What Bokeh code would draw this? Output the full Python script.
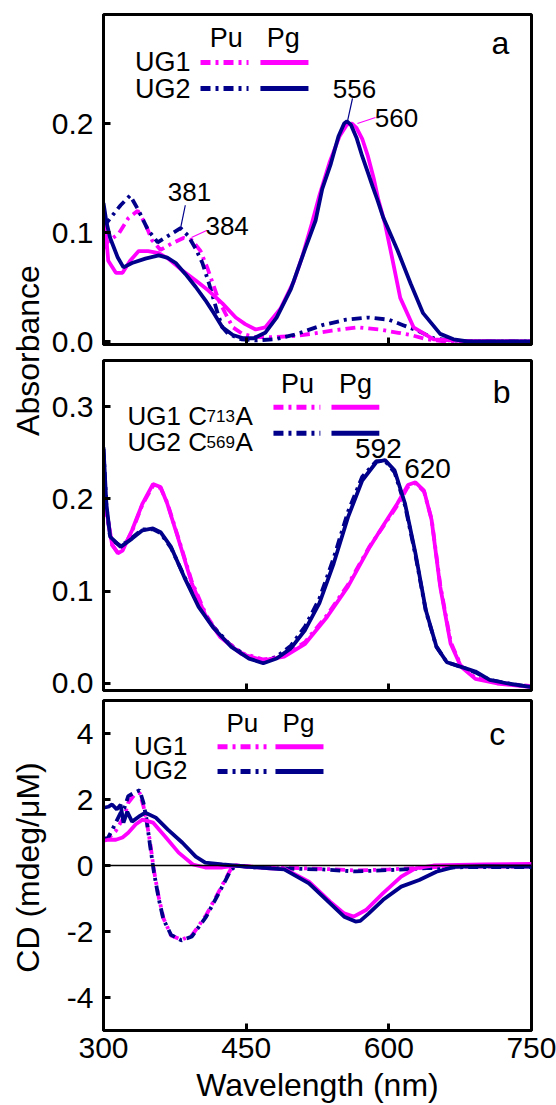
from math import pi
from bokeh.plotting import figure
from bokeh.layouts import row, column
from bokeh.models import Range1d, FixedTicker, Span, PrintfTickFormatter
from bokeh.embed import file_html
from bokeh.resources import INLINE
from bokeh.core.properties import value

FONT = "Liberation Sans"
MAG = "#ff00ff"
BLU = "#00008b"
DASHDOT = "10 5 3 5"

# ---------------- Panel a: absorbance, wild type ----------------
a_ug1_pg_wl = [300, 302, 305, 313, 320, 328, 337, 347, 358, 368, 383, 397, 410, 425, 439, 449, 460, 470, 486, 500,
               509, 519, 527, 538, 548, 556, 561, 566, 572, 578, 584, 589, 596, 602, 612, 626, 647, 676, 750]
a_ug1_pg = [0.108, 0.105, 0.074, 0.063, 0.063, 0.074, 0.083, 0.083, 0.081, 0.076, 0.065, 0.056, 0.047, 0.035, 0.022,
            0.016, 0.011, 0.013, 0.030, 0.055, 0.078, 0.108, 0.134, 0.165, 0.188, 0.199, 0.200, 0.196, 0.186, 0.170,
            0.150, 0.130, 0.108, 0.083, 0.040, 0.013, 0.002, 0.0005, 0.0]
a_ug2_pg_wl = [300, 303, 307, 315, 321, 330, 344, 358, 367, 376, 386, 397, 407, 416, 425, 436, 447, 458, 470, 482,
               497, 512, 523, 530, 539, 547, 553, 556, 560, 566, 572, 578, 583, 588, 594, 600, 609, 623, 636, 654,
               668, 683, 750]
a_ug2_pg = [0.127, 0.110, 0.095, 0.077, 0.068, 0.072, 0.076, 0.079, 0.077, 0.072, 0.062, 0.050, 0.038, 0.026, 0.013,
            0.006, 0.003, 0.003, 0.008, 0.022, 0.048, 0.085, 0.111, 0.140, 0.163, 0.188, 0.200, 0.202, 0.199, 0.187,
            0.170, 0.155, 0.142, 0.130, 0.114, 0.102, 0.084, 0.053, 0.026, 0.007, 0.002, 0.0, 0.0]
a_ug1_pu_wl = [300, 304, 316, 326, 336, 344, 351, 360, 372, 384, 393, 402, 409, 415, 421, 428, 436, 446, 460, 480,
               500, 518, 540, 567, 590, 610, 623, 640, 660, 750]
a_ug1_pu = [0.085, 0.091, 0.099, 0.113, 0.120, 0.108, 0.093, 0.084, 0.090, 0.095, 0.093, 0.083, 0.068, 0.053, 0.038,
            0.026, 0.013, 0.007, 0.004, 0.004, 0.005, 0.007, 0.010, 0.013, 0.011, 0.008, 0.006, 0.002, 0.0, 0.0]
a_ug2_pu_wl = [300, 307, 318, 328, 337, 347, 357, 368, 381, 389, 397, 404, 411, 416, 420, 425, 431, 445, 460, 480,
               500, 507, 530, 555, 578, 600, 615, 630, 647, 665, 700, 750]
a_ug2_pu = [0.105, 0.113, 0.125, 0.134, 0.120, 0.102, 0.091, 0.097, 0.104, 0.097, 0.085, 0.072, 0.053, 0.038, 0.026,
            0.013, 0.007, 0.002, 0.001, 0.002, 0.006, 0.008, 0.015, 0.020, 0.022, 0.020, 0.015, 0.010, 0.003, 0.001,
            0.0, 0.0]

# ---------------- Panel b: absorbance, Cys->Ala mutants ----------------
b_ug1_wl = [300, 303, 309, 315, 320, 330, 341, 352, 360, 367, 378, 393, 408, 423, 445, 468, 490, 512, 535, 557,
            580, 594, 609, 620, 628, 637, 645, 654, 665, 676, 691, 714, 750]
b_ug1_pg = [0.227, 0.188, 0.151, 0.141, 0.144, 0.166, 0.195, 0.216, 0.213, 0.195, 0.159, 0.108, 0.072, 0.050, 0.032,
            0.025, 0.029, 0.043, 0.072, 0.105, 0.148, 0.171, 0.195, 0.215, 0.218, 0.209, 0.177, 0.105, 0.043, 0.018,
            0.005, 0.0, -0.004]
b_ug1_pu = [0.225, 0.186, 0.150, 0.142, 0.145, 0.165, 0.194, 0.214, 0.212, 0.196, 0.160, 0.110, 0.074, 0.051, 0.033,
            0.026, 0.030, 0.045, 0.074, 0.107, 0.149, 0.170, 0.193, 0.213, 0.217, 0.208, 0.178, 0.107, 0.045, 0.019,
            0.006, 0.001, -0.003]
b_ug2_wl = [300, 303, 307, 311, 318, 330, 341, 352, 360, 371, 385, 400, 415, 434, 453, 468, 482, 497, 512, 527,
            542, 557, 572, 587, 596, 606, 617, 628, 639, 650, 661, 676, 691, 706, 725, 750]
b_ug2_pg = [0.256, 0.195, 0.159, 0.155, 0.148, 0.157, 0.166, 0.168, 0.164, 0.148, 0.115, 0.083, 0.061, 0.040, 0.027,
            0.022, 0.027, 0.038, 0.058, 0.087, 0.130, 0.180, 0.220, 0.240, 0.242, 0.231, 0.195, 0.141, 0.079, 0.040,
            0.023, 0.018, 0.013, 0.004, 0.0, -0.004]
b_ug2_pu = [0.254, 0.193, 0.158, 0.154, 0.149, 0.158, 0.167, 0.167, 0.163, 0.147, 0.116, 0.085, 0.062, 0.041, 0.028,
            0.023, 0.029, 0.041, 0.062, 0.092, 0.136, 0.186, 0.224, 0.241, 0.241, 0.229, 0.193, 0.139, 0.078, 0.040,
            0.023, 0.018, 0.012, 0.004, 0.0, -0.004]

# ---------------- Panel c: circular dichroism ----------------
c_ug1_pg_wl = [300, 305, 313, 320, 326, 334, 341, 352, 365, 379, 394, 407, 425, 439, 453, 475, 490, 516, 538, 553,
               563, 576, 594, 613, 628, 647, 700, 750]
c_ug1_pg = [0.75, 0.78, 0.78, 0.85, 0.99, 1.25, 1.39, 1.30, 0.87, 0.39, 0.03, -0.06, -0.06, 0.0, -0.04, -0.09,
            -0.10, -0.49, -1.09, -1.45, -1.55, -1.35, -0.84, -0.34, -0.09, 0.0, 0.03, 0.05]
c_ug2_pg_wl = [300, 305, 309, 314, 318, 321, 325, 330, 337, 344, 355, 368, 383, 397, 407, 425, 449, 475, 490, 516,
               538, 553, 565, 570, 579, 594, 613, 632, 650, 669, 700, 750]
c_ug2_pg = [1.75, 1.78, 1.85, 1.70, 1.84, 1.30, 1.63, 1.33, 1.48, 1.60, 1.45, 1.08, 0.69, 0.27, 0.09, 0.03, -0.03,
            -0.09, -0.12, -0.54, -1.14, -1.55, -1.70, -1.68, -1.45, -1.04, -0.64, -0.44, -0.19, -0.04, -0.02, -0.03]
c_pu_wl = [300, 305, 313, 318, 322, 326, 332, 338, 342, 345, 349, 353, 358, 363, 371, 382, 393, 408, 423, 434,
           440, 455, 490, 530, 565, 600, 640, 680, 720, 750]
c_ug1_pu = [0.75, 0.82, 1.05, 1.30, 1.50, 1.90, 2.12, 2.20, 1.80, 1.40, 0.70, -0.15, -0.95, -1.60, -2.12, -2.25,
            -2.12, -1.50, -0.70, -0.10, 0.0, -0.03, -0.07, -0.10, -0.15, -0.12, -0.06, -0.03, -0.03, -0.03]
c_ug2_pu = [0.80, 0.85, 1.30, 1.60, 1.75, 2.10, 2.20, 2.28, 1.90, 1.45, 0.60, -0.20, -1.00, -1.63, -2.10, -2.27,
            -2.15, -1.55, -0.74, -0.13, 0.0, -0.05, -0.09, -0.12, -0.18, -0.14, -0.08, -0.05, -0.05, -0.05]

# ---------------- texts ----------------
x_ticks = [300, 450, 600, 750]
a_yticks = [0.0, 0.1, 0.2]
b_yticks = [0.0, 0.1, 0.2, 0.3]
c_yticks = [-4, -2, 0, 2, 4]
a_peak_text = ["556", "560", "381", "384"]
a_peak_x = [563.9, 608.0, 390.4, 430.0]
a_peak_y = [0.232, 0.2055, 0.1367, 0.1064]
a_lead_x0 = [561.8, 586.0, 386.0, 409.0]
a_lead_y0 = [0.223, 0.2055, 0.125, 0.102]
a_lead_x1 = [556.5, 567.0, 381.0, 392.5]
a_lead_y1 = [0.202, 0.200, 0.1037, 0.0954]
a_lead_col = [BLU, MAG, BLU, MAG]
b_peak_text = ["592", "620"]
b_peak_x = [589.0, 640.7]
b_peak_y = [0.255, 0.233]


def panel(height, yr, yticks, fmt, btop, bbot, show_x):
    p = figure(width=508, height=height, x_range=Range1d(300, 750), y_range=Range1d(*yr),
               output_backend="svg", toolbar_location=None,
               min_border_left=55, min_border_right=25, min_border_top=btop, min_border_bottom=bbot)
    p.grid.visible = False
    p.background_fill_color = "white"
    p.border_fill_color = None
    p.outline_line_color = "black"
    p.outline_line_width = 3
    p.xaxis.ticker = FixedTicker(ticks=x_ticks)
    p.yaxis.ticker = FixedTicker(ticks=yticks)
    p.xaxis.formatter = PrintfTickFormatter(format="%d")
    p.yaxis.formatter = PrintfTickFormatter(format=fmt)
    for ax in p.axis:
        ax.axis_line_width = 3
        ax.axis_line_color = "black"
        ax.major_tick_line_width = 3
        ax.major_tick_line_color = "black"
        ax.major_tick_in = 7
        ax.major_tick_out = 0
        ax.minor_tick_line_color = None
        ax.major_label_text_font = FONT
        ax.major_label_text_font_size = "30px"
        ax.major_label_text_color = "black"
    p.yaxis.major_label_standoff = 10
    if show_x:
        p.xaxis.major_label_standoff = 7
    else:
        p.xaxis.major_label_text_font_size = "1px"
        p.xaxis.major_label_text_color = None
        p.xaxis.major_label_standoff = 0
    return p


def txt(p, x, y, t, size, align="center", baseline="middle", color="black"):
    p.text(x=x, y=y, text=t, text_font=value(FONT), text_font_size=value(size),
           text_align=align, text_baseline=baseline, text_color=color)


# ---- panel a ----
pa = panel(358, (-0.00275, 0.3), a_yticks, "%.1f", 14, 14, False)
pa.line(a_ug1_pu_wl, a_ug1_pu, line_color=MAG, line_width=3.8, line_dash=DASHDOT)
pa.line(a_ug2_pu_wl, a_ug2_pu, line_color=BLU, line_width=3.8, line_dash=DASHDOT)
pa.line(a_ug1_pg_wl, a_ug1_pg, line_color=MAG, line_width=3.8)
pa.line(a_ug2_pg_wl, a_ug2_pg, line_color=BLU, line_width=3.8)
pa.segment(x0=a_lead_x0, y0=a_lead_y0, x1=a_lead_x1, y1=a_lead_y1, line_color=a_lead_col, line_width=1.2)
txt(pa, a_peak_x, a_peak_y, a_peak_text, "26px")
txt(pa, [429, 489], [0.278, 0.278], ["Pu", "Pg"], "27px")
txt(pa, [391.5, 391.5], [0.256, 0.232], ["UG1", "UG2"], "27px", align="right")
pa.segment(x0=[402, 402], y0=[0.256, 0.232], x1=[452.5, 452.5], y1=[0.256, 0.232],
           line_color=[MAG, BLU], line_width=5, line_dash=DASHDOT)
pa.segment(x0=[465, 465], y0=[0.256, 0.232], x1=[515.5, 515.5], y1=[0.256, 0.232],
           line_color=[MAG, BLU], line_width=5)
txt(pa, [717.4], [0.2743], ["a"], "32px")

# ---- panel b ----
pb = panel(340, (-0.0076, 0.35), b_yticks, "%.1f", 2, 8, False)
pb.line(b_ug1_wl, b_ug1_pu, line_color=MAG, line_width=3.8, line_dash=DASHDOT)
pb.line(b_ug2_wl, b_ug2_pu, line_color=BLU, line_width=3.8, line_dash=DASHDOT)
pb.line(b_ug1_wl, b_ug1_pg, line_color=MAG, line_width=3.8)
pb.line(b_ug2_wl, b_ug2_pg, line_color=BLU, line_width=3.8)
txt(pb, b_peak_x, b_peak_y, b_peak_text, "28px")
txt(pb, [504, 565], [0.3244, 0.3244], ["Pu", "Pg"], "27px")
txt(pb, [325.2, 325.2], [0.2897, 0.2615], ["UG1 C", "UG2 C"], "26px", align="left", baseline="alphabetic")
txt(pb, [408.3, 408.3], [0.2897, 0.2615], ["713", "569"], "17px", align="left", baseline="alphabetic")
txt(pb, [438.8, 438.8], [0.2897, 0.2615], ["A", "A"], "26px", align="left", baseline="alphabetic")
pb.segment(x0=[478.7, 478.7], y0=[0.2994, 0.2713], x1=[528, 528], y1=[0.2994, 0.2713],
           line_color=[MAG, BLU], line_width=5, line_dash=DASHDOT)
pb.segment(x0=[539.7, 539.7], y0=[0.2994, 0.2713], x1=[590, 590], y1=[0.2994, 0.2713],
           line_color=[MAG, BLU], line_width=5)
txt(pb, [718.5], [0.3157], ["b"], "32px")

# ---- panel c ----
pc = panel(407, (-5, 5), c_yticks, "%d", 2, 73, True)
pc.xaxis.axis_label = "Wavelength (nm)"
pc.xaxis.axis_label_text_font = FONT
pc.xaxis.axis_label_text_font_size = "32px"
pc.xaxis.axis_label_text_font_style = "normal"
pc.xaxis.axis_label_text_color = "black"
pc.xaxis.axis_label_standoff = 6
pc.add_layout(Span(location=0, dimension="width", line_color="black", line_width=1.5))
pc.line(c_pu_wl, c_ug1_pu, line_color=MAG, line_width=3.8, line_dash=DASHDOT)
pc.line(c_pu_wl, c_ug2_pu, line_color=BLU, line_width=3.8, line_dash=DASHDOT)
pc.line(c_ug1_pg_wl, c_ug1_pg, line_color=MAG, line_width=3.8)
pc.line(c_ug2_pg_wl, c_ug2_pg, line_color=BLU, line_width=3.8)
txt(pc, [446, 505], [4.32, 4.32], ["Pu", "Pg"], "26px")
txt(pc, [388.3, 388.3], [3.63, 2.88], ["UG1", "UG2"], "26px", align="right")
pc.segment(x0=[419.9, 419.9], y0=[3.6, 2.85], x1=[471.4, 471.4], y1=[3.6, 2.85],
           line_color=[MAG, BLU], line_width=5, line_dash=DASHDOT)
pc.segment(x0=[480.8, 480.8], y0=[3.6, 2.85], x1=[531.3, 531.3], y1=[3.6, 2.85],
           line_color=[MAG, BLU], line_width=5)
txt(pc, [714], [3.99], ["c"], "32px")

# ---- left column of axis titles ----
lab = figure(width=48, height=1105, x_range=Range1d(0, 48), y_range=Range1d(0, 1105),
             output_backend="svg", toolbar_location=None, min_border=0,
             x_axis_location=None, y_axis_location=None)
lab.grid.visible = False
lab.outline_line_color = None
lab.text(x=[27, 27], y=[755, 238], text=["Absorbance", "CD (mdeg/\u03bcM)"], angle=pi / 2,
         text_font=value(FONT), text_font_size=value("32px"), text_align="center",
         text_baseline="middle", text_color="black")

layout = row(lab, column(pa, pb, pc, spacing=0), spacing=0)
open("out.html", "w").write(file_html(layout, INLINE))
